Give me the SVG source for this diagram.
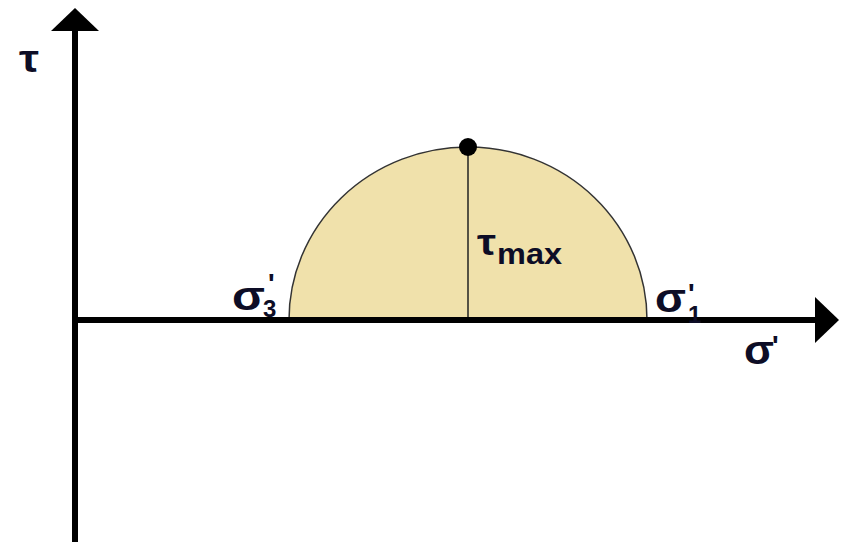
<svg xmlns="http://www.w3.org/2000/svg" width="846" height="542" viewBox="0 0 846 542">
<style>
.lbl{font-family:"Liberation Sans",Arial,sans-serif;font-weight:bold;fill:#0d0d26}
.sg{font-size:40px}
.sub{font-size:24px}
.pr{font-size:28px}
.ax{stroke:#000;stroke-width:6;fill:none}
</style>
<rect width="846" height="542" fill="#fff"/>
<g id="circle">
<path d="M289,320 A179,173 0 0 1 647,320 Z" fill="#F0E1AB" stroke="#333" stroke-width="1.5"/>
<line x1="468" y1="147" x2="468" y2="320" stroke="#222" stroke-width="1.5"/>
<circle cx="468" cy="147" r="9" fill="#000"/>
</g>
<g id="connectors">
<line class="ax" x1="75" y1="28" x2="75" y2="542"/>
<polygon points="75,8 99,31 51,31" fill="#000"/>
<line class="ax" x1="72" y1="320" x2="818" y2="320"/>
<polygon points="839,320 815,297 815,343" fill="#000"/>
</g>
<g id="labels">
<text class="lbl" x="19" y="72" font-size="38" textLength="20" lengthAdjust="spacingAndGlyphs">τ</text>
<text class="lbl" x="477" y="255" font-size="36" textLength="19" lengthAdjust="spacingAndGlyphs">τ</text>
<text class="lbl" x="497" y="264" font-size="30" textLength="65" lengthAdjust="spacingAndGlyphs">max</text>
<text class="lbl sg" x="232" y="310" textLength="33" lengthAdjust="spacingAndGlyphs">σ</text>
<text class="lbl pr" x="268" y="293">'</text>
<text class="lbl sub" x="263" y="317">3</text>
<text class="lbl sg" x="655" y="312" textLength="31" lengthAdjust="spacingAndGlyphs">σ</text>
<text class="lbl pr" x="688" y="303">'</text>
<text class="lbl sub" x="688" y="323">1</text>
<text class="lbl sg" x="744" y="364" textLength="30" lengthAdjust="spacingAndGlyphs">σ</text>
<text class="lbl pr" x="772" y="355">'</text>
</g>
</svg>
